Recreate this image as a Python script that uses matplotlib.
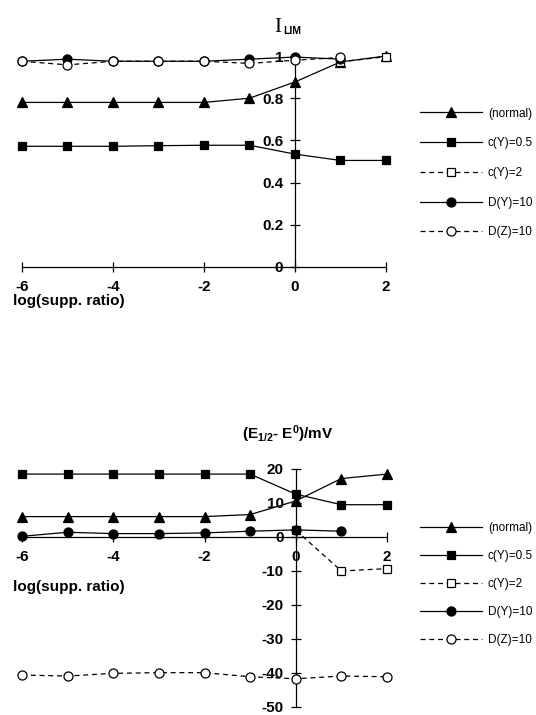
import numpy as np
import matplotlib
matplotlib.use("Agg")
import matplotlib.pyplot as plt

plt.rcParams['font.family'] = ['Liberation Sans', 'DejaVu Sans']
plt.rcParams['axes.unicode_minus'] = False
plt.rcParams['mathtext.fontset'] = 'custom'
plt.rcParams['mathtext.rm'] = 'Liberation Sans'
plt.rcParams['mathtext.bf'] = 'Liberation Sans:bold'
plt.rcParams['mathtext.default'] = 'regular'

nan = np.nan

# log of the supporting electrolyte ratio
log_ratio = [-6, -5, -4, -3, -2, -1, 0, 1, 2]

series_labels = ['(normal)', 'c(Y)=0.5', 'c(Y)=2', 'D(Y)=10', 'D(Z)=10']

# limiting current (top panel)
ilim_normal = [0.78, 0.78, 0.78, 0.78, 0.78, 0.80, 0.877, 0.972, 1.0]
ilim_cy05 = [0.572, 0.572, 0.572, 0.575, 0.577, 0.577, 0.535, 0.505, 0.505]
ilim_cy2 = [nan, nan, nan, nan, nan, nan, nan, 0.972, 0.997]
ilim_dy10 = [0.975, 0.985, 0.975, 0.975, 0.975, 0.985, 0.995, 0.985, nan]
ilim_dz10 = [0.975, 0.958, 0.975, 0.975, 0.975, 0.965, 0.98, 0.993, nan]

# half-wave potential shift in mV (bottom panel)
e12_normal = [6.0, 6.0, 6.0, 6.0, 6.0, 6.6, 10.6, 17.2, 18.5]
e12_cy05 = [18.5, 18.5, 18.5, 18.5, 18.5, 18.5, 12.6, 9.5, 9.5]
e12_cy2 = [nan, nan, nan, nan, nan, nan, 2.0, -10.0, -9.3]
e12_dy10 = [0.2, 1.4, 1.0, 1.0, 1.2, 1.7, 2.1, 1.7, nan]
e12_dz10 = [-40.6, -40.9, -40.1, -39.9, -39.9, -41.1, -41.7, -40.9, -41.1]

xticks = [-6, -4, -2, 0, 2]
ilim_ticks = [0, 0.2, 0.4, 0.6, 0.8, 1]
ilim_ticklabels = ['0', '0.2', '0.4', '0.6', '0.8', '1']
e12_ticks = [20, 10, 0, -10, -20, -30, -40, -50]

W, H = 536, 715
fig = plt.figure(figsize=(W / 100, H / 100), dpi=100)


def px(x, y):
    # pixel position (from top-left) to figure fraction
    return x / W, 1 - y / H


styles = [
    dict(marker='^', ls='-', mfc='black', ms=6.5),
    dict(marker='s', ls='-', mfc='black', ms=6),
    dict(marker='s', ls=(0, (4, 3)), mfc='white', ms=6),
    dict(marker='o', ls='-', mfc='black', ms=6.5),
    dict(marker='o', ls=(0, (4, 3)), mfc='white', ms=6.5),
]


def panel(rect, ydata, ylim, yticks, yticklabels):
    ax = fig.add_axes(rect)
    lines = []
    for y, st in zip(ydata, styles):
        ln, = ax.plot(log_ratio, y, color='black', lw=0.9, mec='black',
                      mew=0.9, clip_on=False, zorder=3, **st)
        lines.append(ln)
    ax.set_xlim(-6, 2)
    ax.set_ylim(*ylim)
    for side in ['top', 'right']:
        ax.spines[side].set_visible(False)
    ax.spines['left'].set_position(('data', 0))
    ax.spines['bottom'].set_position(('data', 0))
    for side in ['left', 'bottom']:
        ax.spines[side].set_linewidth(0.9)
    ax.set_xticks(xticks)
    ax.set_xticklabels([str(t) for t in xticks])
    ax.set_yticks(yticks)
    ax.set_yticklabels(yticklabels)
    ax.tick_params(axis='both', direction='inout', length=7, width=0.9,
                   labelsize=11)
    ax.tick_params(axis='x', pad=6)
    ax.tick_params(axis='y', pad=5)
    for lbl in ax.get_xticklabels() + ax.get_yticklabels():
        lbl.set_fontweight('bold')
    ax.patch.set_visible(False)
    return ax, lines


# top panel: limiting current
ax1, lines1 = panel([22 / W, (H - 267) / H, 364 / W, 211 / H],
                    [ilim_normal, ilim_cy05, ilim_cy2, ilim_dy10, ilim_dz10],
                    (0, 1), ilim_ticks, ilim_ticklabels)

# bottom panel: E1/2 shift
ax2, lines2 = panel([22 / W, (H - 707) / H, 365 / W, 238 / H],
                    [e12_normal, e12_cy05, e12_cy2, e12_dy10, e12_dz10],
                    (-50, 20), e12_ticks, [str(t) for t in e12_ticks])

fig.text(*px(274, 32), 'I', family='Liberation Serif', fontsize=15)
fig.text(*px(283, 34), 'LIM', fontsize=7.5, fontweight='bold')
fig.text(*px(242, 439), r'(E$_{1/2}$- E$^{0}$)/mV', fontsize=11,
         fontweight='bold')

fig.text(*px(13, 301), 'log(supp. ratio)', fontsize=11, fontweight='bold',
         va='center')
fig.text(*px(13, 587), 'log(supp. ratio)', fontsize=11, fontweight='bold',
         va='center')

for lines, ycen, spacing in [(lines1, 173, 1.5), (lines2, 584, 1.34)]:
    fig.legend(lines, series_labels, loc='center left',
               bbox_to_anchor=px(420, ycen), frameon=False, fontsize=8.5,
               handlelength=5.25, handletextpad=0.5, labelspacing=spacing,
               borderpad=0, borderaxespad=0, numpoints=1)

fig.savefig('out.png', dpi=100)
